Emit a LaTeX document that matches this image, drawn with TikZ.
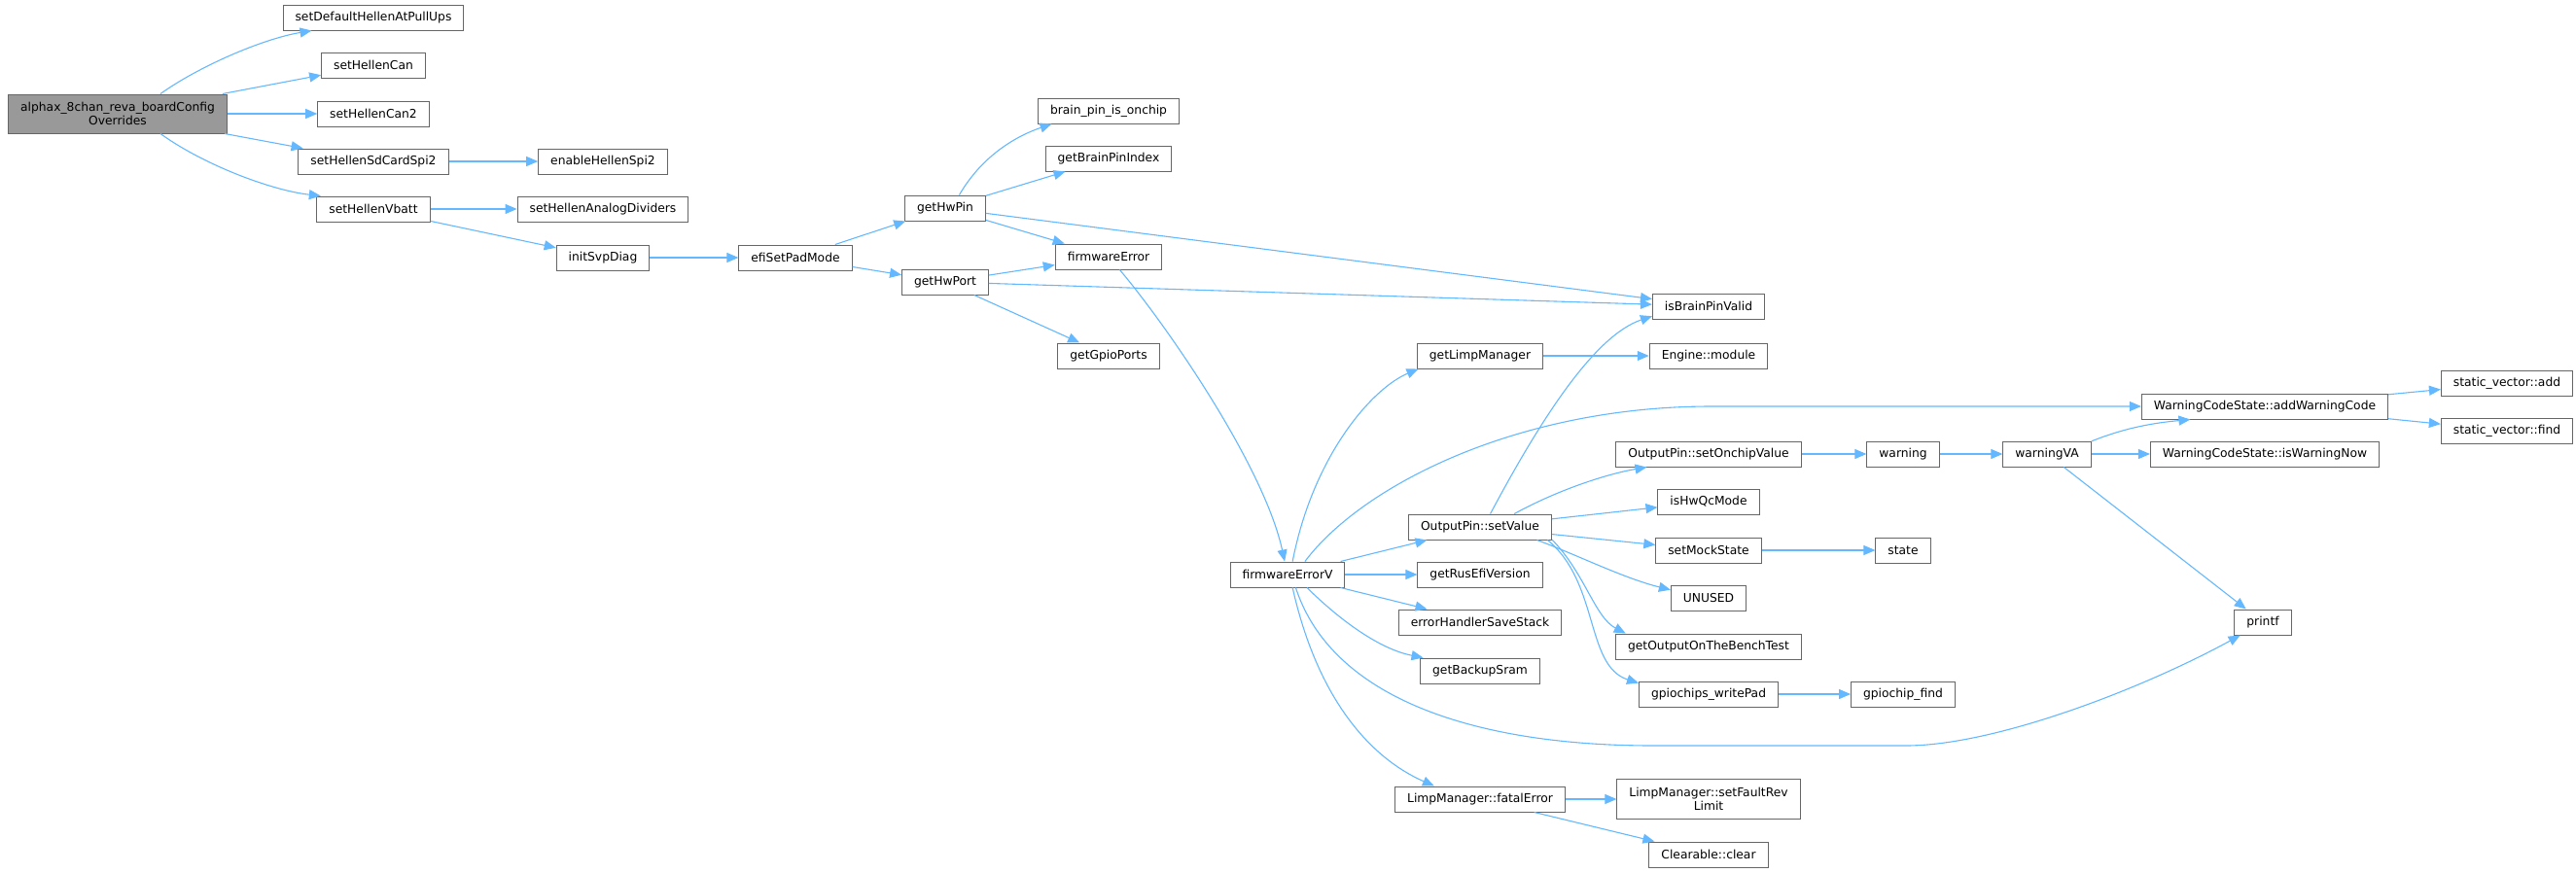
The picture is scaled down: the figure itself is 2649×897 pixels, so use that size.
\documentclass[tikz,border=0pt]{standalone}
\usepackage{fontspec}
\setmainfont{DejaVu Sans}
\usetikzlibrary{arrows.meta}
\definecolor{edgeblue}{HTML}{63B8FF}
\definecolor{boxgray}{HTML}{666666}
\definecolor{rootgray}{HTML}{999999}

\begin{document}
\begin{tikzpicture}[x=1pt,y=-1pt,
  fn/.style={draw=boxgray,fill=white,line width=1pt,minimum height=26pt,inner xsep=12.5pt,inner ysep=2pt,font=\fontsize{12.3}{14.5}\selectfont,align=center},
  root/.style={fn,fill=rootgray,minimum height=40pt},
  call/.style={color=edgeblue,line width=1.1pt,-{Triangle[length=12pt,width=10pt]}}]
\useasboundingbox (0,0) rectangle (2649,897);
\node[root] (Pboard) at (121,117) {alphax\_8chan\_reva\_boardConfig\\Overrides};
\node[fn] (Ppullups) at (384,18) {setDefaultHellenAtPullUps};
\node[fn] (Pcan) at (384,67) {setHellenCan};
\node[fn] (Pcan2) at (384,117) {setHellenCan2};
\node[fn] (Psdcard) at (384,166) {setHellenSdCardSpi2};
\node[fn] (Pspi2) at (620,166) {enableHellenSpi2};
\node[fn] (Pvbatt) at (384,215) {setHellenVbatt};
\node[fn] (Pdividers) at (620,215) {setHellenAnalogDividers};
\node[fn] (Psvp) at (620,265) {initSvpDiag};
\node[fn] (Ppad) at (818,265) {efiSetPadMode};
\node[fn] (Phwpin) at (972,214) {getHwPin};
\node[fn] (Ponchip) at (1140,114) {brain\_pin\_is\_onchip};
\node[fn] (Pindex) at (1140,163) {getBrainPinIndex};
\node[fn] (Pfwerr) at (1140,264) {firmwareError};
\node[fn] (Phwport) at (972,290) {getHwPort};
\node[fn] (Pgpio) at (1140,366) {getGpioPorts};
\node[fn] (Pvalid) at (1757,315) {isBrainPinValid};
\node[fn] (Plimp) at (1522,366) {getLimpManager};
\node[fn] (Pmodule) at (1757,366) {Engine::module};
\node[fn] (Paddwarn) at (2329,418) {WarningCodeState::addWarningCode};
\node[fn] (Padd) at (2578,394) {static\_vector::add};
\node[fn] (Pfind) at (2578,443) {static\_vector::find};
\node[fn] (Pfwerrv) at (1324,591) {firmwareErrorV};
\node[fn] (Psetval) at (1522,542) {OutputPin::setValue};
\node[fn] (Pversion) at (1522,591) {getRusEfiVersion};
\node[fn] (Pstack) at (1522,640) {errorHandlerSaveStack};
\node[fn] (Psram) at (1522,690) {getBackupSram};
\node[fn] (Ponchipval) at (1757,467) {OutputPin::setOnchipValue};
\node[fn] (Pwarning) at (1957,467) {warning};
\node[fn] (Pwarnva) at (2105,467) {warningVA};
\node[fn] (Pwarnnow) at (2329,467) {WarningCodeState::isWarningNow};
\node[fn] (Pqc) at (1757,516) {isHwQcMode};
\node[fn] (Pmock) at (1757,566) {setMockState};
\node[fn] (Pstate) at (1957,566) {state};
\node[fn] (Punused) at (1757,615) {UNUSED};
\node[fn] (Pbench) at (1757,665) {getOutputOnTheBenchTest};
\node[fn] (Pwritepad) at (1757,714) {gpiochips\_writePad};
\node[fn] (Pchipfind) at (1957,714) {gpiochip\_find};
\node[fn] (Pprintf) at (2327,640) {printf};
\node[fn] (Pfatal) at (1522,822) {LimpManager::fatalError};
\node[fn,minimum height=41pt] (Prevlimit) at (1757,822) {LimpManager::setFaultRev\\Limit};
\node[fn] (Pclear) at (1757,879) {Clearable::clear};
\path[call]
(Pboard) edge (Pcan)
(Pboard) edge (Pcan2)
(Pboard) edge (Psdcard)
(Psdcard) edge (Pspi2)
(Pvbatt) edge (Pdividers)
(Pvbatt) edge (Psvp)
(Psvp) edge (Ppad)
(Ppad) edge (Phwpin)
(Ppad) edge (Phwport)
(Phwpin) edge (Pindex)
(Phwpin) edge (Pfwerr)
(Phwpin) edge (Pvalid)
(Phwport) edge (Pfwerr)
(Phwport) edge (Pvalid)
(Phwport) edge (Pgpio)
(Plimp) edge (Pmodule)
(Pfwerrv) edge (Psetval)
(Pfwerrv) edge (Pversion)
(Pfwerrv) edge (Pstack)
(Psetval) edge (Pqc)
(Psetval) edge (Pmock)
(Ponchipval) edge (Pwarning)
(Pwarning) edge (Pwarnva)
(Pwarnva) edge (Pwarnnow)
(Pwarnva) edge (Pprintf)
(Paddwarn) edge (Padd)
(Paddwarn) edge (Pfind)
(Pmock) edge (Pstate)
(Pwritepad) edge (Pchipfind)
(Pfatal) edge (Prevlimit)
(Pfatal) edge (Pclear);
\draw[call] (Pboard.25) .. controls (205,68) and (270,40) .. (Ppullups.192);
\draw[call] (Pboard.-25) .. controls (210,170) and (280,196) .. (Pvbatt.166);
\draw[call] (Phwpin.43) .. controls (1010,160) and (1045,140) .. (Ponchip.193);
\draw[call] (Pfwerr) .. controls (1200,335) and (1300,480) .. (Pfwerrv);
\draw[call] (Pfwerrv.69) .. controls (1350,470) and (1410,400) .. (Plimp.192);
\draw[call] (Pfwerrv.37) .. controls (1400,500) and (1560,418) .. (1760,418) -- (Paddwarn);
\draw[call] (Pfwerrv.-34) .. controls (1380,640) and (1420,668) .. (Psram.167);
\draw[call] (Pfwerrv.-58) .. controls (1370,720) and (1520,767) .. (1700,767) -- (1960,767) .. controls (2050,767) and (2200,710) .. (Pprintf.210);
\draw[call] (Pfwerrv.-69) .. controls (1355,720) and (1410,780) .. (Pfatal.164);
\draw[call] (Psetval.52) .. controls (1585,430) and (1640,345) .. (Pvalid.190);
\draw[call] (Psetval.21) .. controls (1600,505) and (1650,488) .. (Ponchipval.192);
\draw[call] (Psetval.-13) .. controls (1620,570) and (1670,595) .. (Punused.168);
\draw[call] (Psetval.-10) .. controls (1630,590) and (1640,635) .. (Pbench.171);
\draw[call] (Psetval.-11) .. controls (1645,600) and (1630,685) .. (Pwritepad.171);
\draw[call] (Pwarnva.16) .. controls (2185,440) and (2215,435) .. (Paddwarn.190);
\end{tikzpicture}
\end{document}
